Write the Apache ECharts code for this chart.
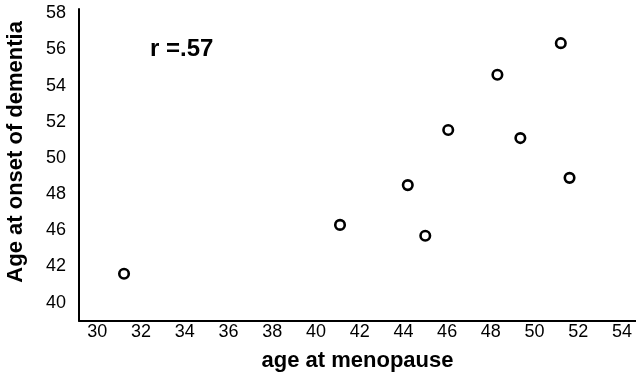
<!DOCTYPE html>
<html>
<head>
<meta charset="utf-8">
<script src="https://cdn.jsdelivr.net/npm/echarts@6/dist/echarts.min.js"></script>
<style>html,body{margin:0;padding:0;background:#fff;}#chart{width:636px;height:373px;}</style>
</head>
<body>
<div id="chart"></div>
<script>
// Data
var menopauseAge = [31.22, 41.1, 44.2, 45.0, 46.05, 48.3, 49.35, 51.2, 51.6];
var dementiaAge  = [43.6, 46.3, 48.5, 45.7, 51.55, 54.6, 51.1, 56.35, 48.9];
// Tick labels as printed in the reference
var xTickValues = [30, 32, 34, 36, 38, 40, 42, 44, 46, 48, 50, 52, 54];
var xTickLabels = ['30', '32', '34', '36', '38', '40', '42', '44', '46', '48', '50', '52', '54'];
var yTickValues = [42, 44, 46, 48, 50, 52, 54, 56, 58];
var yTickLabels = ['40', '42', '46', '48', '50', '52', '54', '56', '58'];
var xTitle = 'age at menopause';
var yTitle = 'Age at onset of dementia';
var annotation = 'r =.57';

var points = menopauseAge.map(function (x, i) { return [x, dementiaAge[i]]; });
var font = '"Liberation Sans", Arial, sans-serif';

var chart = echarts.init(document.getElementById('chart'));
chart.setOption({
  animation: false,
  backgroundColor: '#ffffff',
  grid: { left: 79, right: 0, top: 9, bottom: 52.3, containLabel: false, outerBoundsMode: 'none' },
  xAxis: {
    type: 'value', min: 29.16, max: 54.64,
    splitLine: { show: false },
    axisTick: { show: false },
    axisLine: { show: true, lineStyle: { color: '#000', width: 2 } },
    axisLabel: {
      customValues: xTickValues,
      formatter: function (v) { var i = xTickValues.indexOf(Math.round(v)); return i >= 0 ? xTickLabels[i] : ''; },
      color: '#000', fontSize: 18, fontFamily: font, margin: 2
    },
    name: xTitle, nameLocation: 'middle', nameGap: 29,
    nameTextStyle: { color: '#000', fontSize: 22, fontWeight: 'bold', fontFamily: font }
  },
  yAxis: {
    type: 'value', min: 41, max: 58.24,
    splitLine: { show: false },
    axisTick: { show: false },
    axisLine: { show: true, lineStyle: { color: '#000', width: 2 } },
    axisLabel: {
      customValues: yTickValues,
      formatter: function (v) { var i = yTickValues.indexOf(Math.round(v)); return i >= 0 ? yTickLabels[i] : ''; },
      color: '#000', fontSize: 18, fontFamily: font, margin: 13
    },
    name: yTitle, nameLocation: 'middle', nameGap: 52,
    nameTextStyle: { color: '#000', fontSize: 22, fontWeight: 'bold', fontFamily: font, padding: [0, 0, 0, 26] }
  },
  graphic: [{
    type: 'text', left: 150, top: 37,
    style: { text: annotation, fill: '#000', font: 'bold 24px ' + font }
  }],
  series: [{
    type: 'scatter',
    data: points,
    symbol: 'circle',
    symbolSize: 9.5,
    itemStyle: { color: '#fff', borderColor: '#000', borderWidth: 2.6, opacity: 1 }
  }]
});
</script>
</body>
</html>
